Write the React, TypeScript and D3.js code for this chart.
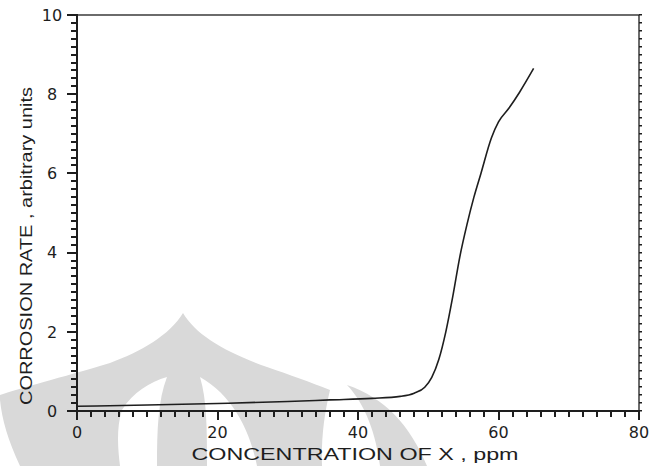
import React from 'react';
import * as d3 from 'd3';

// curve
const concentration = [0, 10, 20, 30, 36, 42, 46, 48, 49.5, 50.5, 51.5, 52.5, 53.5, 54.5, 55.5, 56.5, 57.5, 59, 60, 61.5, 63, 65];
const corrosionRate = [0.12, 0.15, 0.19, 0.24, 0.28, 0.32, 0.37, 0.45, 0.6, 0.85, 1.3, 2.0, 2.9, 3.9, 4.7, 5.4, 6.0, 6.9, 7.3, 7.65, 8.05, 8.65];

const xTicks = [0, 20, 40, 60, 80];
const yTicks = [0, 2, 4, 6, 8, 10];

const width = 652;
const height = 466;

const x = d3.scaleLinear().domain([0, 80]).range([77, 639]);
const y = d3.scaleLinear().domain([0, 10]).range([411, 15]);

const ink = '#1e1e1e';

// light gray watermark behind the plot (dome with two white slits, plus a side petal)
const watermarkMain =
  'M20,466 C8,440 2,420 0,400 L0,395 C20,388 60,378 110,363 C140,352 170,335 183,313 ' +
  'C196,335 225,352 267,367 C290,375 310,382 330,390 C324,415 321,440 322,466 Z ' +
  'M167,377 C150,382 133,392 122,410 C116,428 118,450 120,466 L157,466 C157,430 158,400 167,377 Z ' +
  'M200,377 C207,400 207,430 207,466 L257,466 C250,430 232,395 200,377 Z';
const watermarkRight = 'M347,385 C385,398 410,425 427,466 L380,466 C376,435 366,405 347,385 Z';

// minor ticks every 0.2 on y and every 2 on x
const yMinor = d3.range(0, 51).map((i) => i / 5);
const xMinor = d3.range(0, 41).map((i) => i * 2);

const App = () => {
  const line = d3.line<number>()
    .x((d, i) => x(concentration[i]))
    .y((d) => y(d))
    .curve(d3.curveMonotoneX);

  return (
    <svg width={width} height={height} style={{position: 'absolute', left: 0, top: 0, background: '#fff'}}>
      <path d={watermarkMain} fill="#d9d9d9" fillRule="evenodd" />
      <path d={watermarkRight} fill="#d9d9d9" />

      {/* tick marks, pointing outward, longer at labelled values */}
      {yMinor.map((t, i) => {
        const len = i % 10 === 0 ? 10 : 6;
        return <rect key={'yt' + i} x={x(0) - len} y={Math.round(y(t)) - 1} width={len + 1} height={2} fill={ink} />;
      })}
      {xMinor.map((t, i) => {
        const len = i % 10 === 0 ? 9 : 6;
        return <rect key={'xt' + i} x={Math.round(x(t)) - 1} y={y(0)} width={2} height={len} fill={ink} />;
      })}
      {yMinor.map((t, i) => (
        <rect key={'rt' + i} x={x(80)} y={Math.round(y(t)) - 1} width={3} height={1.5} fill={ink} />
      ))}

      {/* frame */}
      <rect x={x(0)} y={y(10)} width={x(80) - x(0)} height={y(0) - y(10)} fill="none" stroke={ink} strokeWidth={1.3} />
      <line x1={x(0)} x2={x(0)} y1={y(10)} y2={y(0)} stroke={ink} strokeWidth={2} />
      <line x1={x(0)} x2={x(80)} y1={y(0)} y2={y(0)} stroke={ink} strokeWidth={2} />

      {yTicks.map((t) => (
        <text key={'yl' + t} x={52} y={y(t)} dy="0.36em" textAnchor="middle"
              fontFamily="DejaVu Sans, sans-serif" fontSize={16} fill={ink}>{t}</text>
      ))}
      {xTicks.map((t) => (
        <text key={'xl' + t} x={x(t)} y={438} textAnchor="middle"
              fontFamily="DejaVu Sans, sans-serif" fontSize={16} fill={ink}>{t}</text>
      ))}

      <path d={line(corrosionRate) || ''} fill="none" stroke={ink} strokeWidth={1.6} />

      <text x={355} y={460} textAnchor="middle" textLength={327} lengthAdjust="spacingAndGlyphs"
            fontFamily="Liberation Sans, Arial, sans-serif" fontSize={16} fill={ink}>
        CONCENTRATION  OF X , ppm
      </text>
      <text transform="translate(32,246) rotate(-90)" textAnchor="middle" textLength={318} lengthAdjust="spacingAndGlyphs"
            fontFamily="Liberation Sans, Arial, sans-serif" fontSize={16} fill={ink}>
        CORROSION RATE , arbitrary units
      </text>
    </svg>
  );
};

export default App;
